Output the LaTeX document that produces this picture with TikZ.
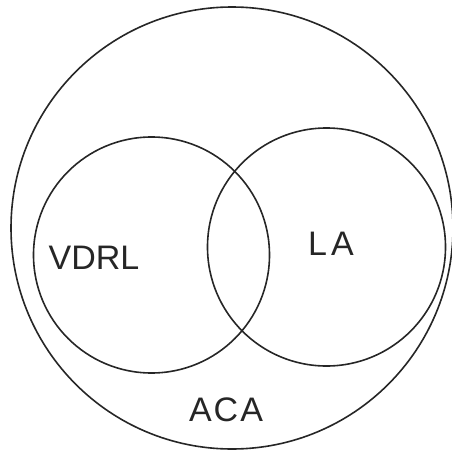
\documentclass[tikz,border=0pt]{standalone}
\usepackage{fontspec}
\setmainfont{Liberation Sans}
\begin{document}
\begin{tikzpicture}[x=1pt,y=-1pt,
  ring/.style={draw=black!85,line width=1.6pt},
  lbl/.style={font=\fontsize{34}{34}\selectfont,text=black!85,inner sep=0pt}]
\useasboundingbox (0,0) rectangle (452,455);
\node[ring,circle,minimum size=442pt,inner sep=0pt] (outer) at (232,228) {};
\node[ring,circle,minimum size=236pt,inner sep=0pt] (left) at (151.5,255) {};
\node[ring,circle,minimum size=238pt,inner sep=0pt] (right) at (326.5,247) {};
\node[lbl] (vdrl) at (94,258) {VDRL};
\node[lbl] (la) at (331,244) {L\kern4pt A};
\node[lbl] (aca) at (226,410) {A\kern2pt C\kern2pt A};
\end{tikzpicture}
\end{document}
